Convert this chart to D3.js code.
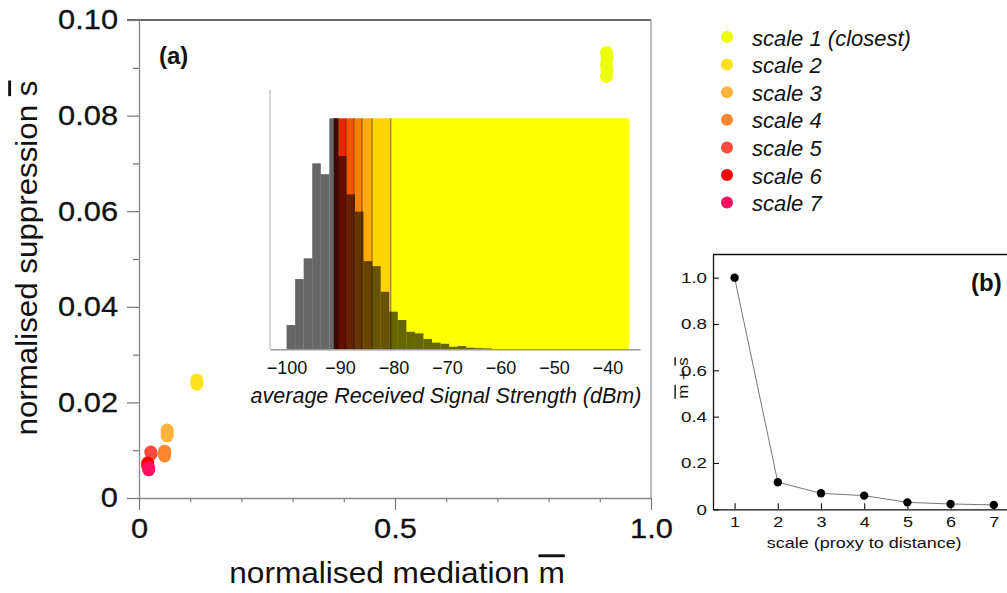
<!DOCTYPE html>
<html>
<head>
<meta charset="utf-8">
<script src="https://cdn.jsdelivr.net/npm/d3@7"></script>
<style>
  body { margin: 0; background: #fff; }
  svg { display: block; }
  text { font-family: "Liberation Sans", Arial, Helvetica, sans-serif; fill: #111; }
</style>
</head>
<body>
<svg id="chart" width="1007" height="593"></svg>
<script>
// ---- data ----
const scaleNames = ["scale 1 (closest)", "scale 2", "scale 3", "scale 4", "scale 5", "scale 6", "scale 7"];

// (a) normalised mediation / suppression, a few samples per scale
const scalePoints = [
  [[0.913, 0.0932], [0.914, 0.0920], [0.913, 0.0907], [0.914, 0.0895], [0.913, 0.0882]],
  [[0.113, 0.0247], [0.113, 0.0242], [0.113, 0.0238]],
  [[0.055, 0.0142], [0.055, 0.0136], [0.055, 0.0130]],
  [[0.050, 0.0098], [0.050, 0.0093], [0.050, 0.0088]],
  [[0.023, 0.0096], [0.024, 0.0092]],
  [[0.017, 0.0073], [0.017, 0.0067]],
  [[0.019, 0.0063], [0.019, 0.0059]]
];
const yTicksA = [0, 0.02, 0.04, 0.06, 0.08, 0.10];
const xTicksA = [0, 0.5, 1.0];

// inset histogram of average RSS (relative heights)
const binStart = [-100, -98.4, -96.8, -95.2, -93.6, -92.0, -90.4, -88.8, -87.2, -85.6, -84.0, -82.4,
                  -80.8, -79.2, -77.6, -76.0, -74.4, -72.8, -71.2, -69.6, -68.0, -66.4, -64.8, -63.2];
const binHeight = [0.105, 0.304, 0.394, 0.805, 0.758, 1.0, 0.837, 0.671, 0.596, 0.382, 0.36, 0.249,
                   0.163, 0.127, 0.076, 0.069, 0.045, 0.029, 0.024, 0.011, 0.014, 0.007, 0.005, 0.004];
const binWidth = 1.6;
const bandEdges = [-91.1, -90.3, -88.9, -87.4, -85.9, -84.0, -80.5, -36.0];
const rssTicks = [-100, -90, -80, -70, -60, -50, -40];

// (b) m + s per scale
const scaleNum = [1, 2, 3, 4, 5, 6, 7];
const sumMS = [1.0, 0.117, 0.069, 0.059, 0.030, 0.023, 0.019];
const yTicksB = [0, 0.2, 0.4, 0.6, 0.8, 1.0];

// colours
const dotColors = ["#eeff00", "#ffe21c", "#ffb23c", "#ff8530", "#ff4a3c", "#ff0000", "#ff0f5f"];
const bandColors = ["#b00000", "#ff2200", "#ff5500", "#ff8000", "#ffaa00", "#ffd200", "#ffff00"];

const svg = d3.select("#chart");

// stretch axis text horizontally (the original figure is a bit wide)
function stretch(sel, k) {
  sel.each(function () {
    const t = d3.select(this);
    const x = +t.attr("x") || 0;
    t.attr("x", x / k).attr("transform", `scale(${k},1)`);
  });
}

// ================= panel (a) =================
const x = d3.scaleLinear().domain([0, 1]).range([139, 651]);
const y = d3.scaleLinear().domain([0, 0.1]).range([498, 20]);

const gA = svg.append("g");

// frame: top and right
gA.append("line").attr("x1", 127).attr("x2", 651).attr("y1", y(0.1)).attr("y2", y(0.1))
  .attr("stroke", "#333").attr("stroke-width", 1.3);
gA.append("line").attr("x1", 651).attr("x2", 651).attr("y1", y(0.1)).attr("y2", y(0))
  .attr("stroke", "#999").attr("stroke-width", 1.3);

// minor ticks
gA.append("g").attr("transform", `translate(${x(0)},0)`)
  .call(d3.axisLeft(y).tickValues(d3.range(1, 10, 2).map(d => d / 100)).tickSize(6).tickFormat(""))
  .call(g => g.select(".domain").remove())
  .selectAll("line").attr("stroke", "#777").attr("stroke-width", 1.2);
gA.append("g").attr("transform", `translate(0,${y(0)})`)
  .call(d3.axisBottom(x).tickValues([0.1, 0.2, 0.3, 0.4, 0.6, 0.7, 0.8, 0.9]).tickSize(4).tickFormat(""))
  .call(g => g.select(".domain").remove())
  .selectAll("line").attr("stroke", "#777").attr("stroke-width", 1.2);

// major y axis
const yAxA = gA.append("g").attr("transform", `translate(${x(0)},0)`)
  .call(d3.axisLeft(y).tickValues(yTicksA).tickSize(12).tickSizeOuter(0).tickPadding(9)
    .tickFormat(d => d === 0 ? "0" : d3.format(".2f")(d)));
yAxA.select(".domain").attr("stroke", "#888").attr("stroke-width", 1.3);
yAxA.selectAll(".tick line").attr("stroke", "#777").attr("stroke-width", 1.2);
yAxA.selectAll("text").attr("font-size", 28).attr("fill", "#111").attr("font-family", null)
  .attr("stroke", "#111").attr("stroke-width", 0.3)
  .call(stretch, 1.1);

// major x axis
const xAxA = gA.append("g").attr("transform", `translate(0,${y(0)})`)
  .call(d3.axisBottom(x).tickValues(xTicksA).tickSize(12).tickSizeOuter(0).tickPadding(8)
    .tickFormat(d => d === 0 ? "0" : d3.format(".1f")(d)));
xAxA.select(".domain").attr("stroke", "#888").attr("stroke-width", 1.3);
xAxA.selectAll(".tick line").attr("stroke", "#777").attr("stroke-width", 1.2);
xAxA.selectAll("text").attr("font-size", 28).attr("fill", "#111").attr("font-family", null)
  .attr("stroke", "#111").attr("stroke-width", 0.3)
  .call(stretch, 1.1);

// axis titles
const yTitle = gA.append("text")
  .attr("transform", "translate(37,258) rotate(-90) scale(1.08,1)")
  .attr("text-anchor", "middle").attr("font-size", 29);
yTitle.append("tspan").text("normalised suppression ");
yTitle.append("tspan").style("text-decoration", "overline").text("s");

const xTitle = gA.append("text")
  .attr("transform", "translate(397,583) scale(1.09,1)")
  .attr("text-anchor", "middle").attr("font-size", 29);
xTitle.append("tspan").text("normalised mediation ");
xTitle.append("tspan").style("text-decoration", "overline").text("m");

gA.append("text").attr("x", 159).attr("y", 64)
  .attr("font-family", "Lato, 'Open Sans', sans-serif").attr("font-weight", "bold")
  .attr("font-size", 24).text("(a)");

// scatter points
scalePoints.forEach((pts, i) => {
  gA.append("g").selectAll("circle")
    .data(pts)
    .enter()
    .append("circle")
    .attr("cx", d => x(d[0]))
    .attr("cy", d => y(d[1]))
    .attr("r", 6.5)
    .attr("fill", dotColors[i]);
});

// ================= inset histogram =================
const hx = d3.scaleLinear().domain([-103.1, -33.9]).range([270, 640]);
const hy = d3.scaleLinear().domain([0, 1]).range([349.3, 118.3]);
const gH = svg.append("g");

// colour bands, closest scale on the right
const bands = d3.range(bandEdges.length - 1).map(i => [bandEdges[i], bandEdges[i + 1]]);
gH.selectAll("rect.band")
  .data(bands)
  .enter()
  .append("rect")
  .attr("class", "band")
  .attr("x", d => hx(d[0]))
  .attr("width", d => hx(d[1]) - hx(d[0]))
  .attr("y", hy(1))
  .attr("height", hy(0) - hy(1))
  .attr("fill", (d, i) => bandColors[i]);

// histogram bars
gH.selectAll("rect.bin")
  .data(binStart.map((b, i) => [b, binHeight[i]]))
  .enter()
  .append("rect")
  .attr("class", "bin")
  .attr("x", d => hx(d[0]))
  .attr("width", hx(binWidth) - hx(0))
  .attr("y", d => hy(d[1]))
  .attr("height", d => hy(0) - hy(d[1]))
  .attr("fill", "#000")
  .attr("fill-opacity", 0.6);

// band separators
gH.selectAll("line.sep")
  .data(bandEdges.slice(0, -1))
  .enter()
  .append("line")
  .attr("x1", d => hx(d)).attr("x2", d => hx(d))
  .attr("y1", hy(1)).attr("y2", hy(0))
  .attr("stroke", "#000").attr("stroke-opacity", 0.5).attr("stroke-width", 1);

// inset axes
gH.append("line").attr("x1", 270).attr("x2", 270).attr("y1", 90).attr("y2", hy(0))
  .attr("stroke", "#bbb").attr("stroke-width", 1.2);
const hAx = gH.append("g").attr("transform", `translate(0,${hy(0)})`)
  .call(d3.axisBottom(hx).tickValues(rssTicks).tickSize(0).tickSizeOuter(0).tickPadding(12));
hAx.select(".domain").attr("stroke", "#999").attr("stroke-width", 1.6);
hAx.selectAll("text").attr("font-size", 18).attr("fill", "#222").attr("font-family", null);

gH.append("text").attr("x", 446).attr("y", 403).attr("text-anchor", "middle")
  .attr("font-size", 21.5).attr("font-style", "italic")
  .text("average Received Signal Strength (dBm)");

// ================= legend =================
const leg = svg.append("g").selectAll("g")
  .data(scaleNames)
  .enter()
  .append("g")
  .attr("transform", (d, i) => `translate(727,${37 + i * 27.6})`);
leg.append("circle").attr("r", 6).attr("fill", (d, i) => dotColors[i]);
leg.append("text").attr("x", 25).attr("y", 8.5)
  .attr("font-size", 22).attr("font-style", "italic").text(d => d);

// ================= panel (b) =================
const bx = d3.scaleLinear().domain([0.5, 7.5]).range([713, 1015.4]);
const by = d3.scaleLinear().domain([0, 1.1]).range([509.3, 254.5]);
const gB = svg.append("g");

gB.append("line").attr("x1", 713).attr("x2", 1007).attr("y1", by(1.1)).attr("y2", by(1.1))
  .attr("stroke", "#111").attr("stroke-width", 1.3);

const bxAx = gB.append("g").attr("transform", `translate(0,${by(0)})`)
  .call(d3.axisBottom(bx).tickValues(scaleNum).tickSize(-6).tickSizeOuter(0).tickPadding(7)
    .tickFormat(d3.format("d")));
const byAx = gB.append("g").attr("transform", `translate(${bx(0.5)},0)`)
  .call(d3.axisLeft(by).tickValues(yTicksB).tickSize(-6).tickSizeOuter(0).tickPadding(6)
    .tickFormat(d => d === 0 ? "0" : d3.format(".1f")(d)));
[bxAx, byAx].forEach(a => {
  a.select(".domain").attr("stroke", "#111").attr("stroke-width", 1.3);
  a.selectAll(".tick line").attr("stroke", "#111").attr("stroke-width", 1.1);
  a.selectAll("text").attr("font-size", 15).attr("fill", "#111").attr("font-family", null);
});
byAx.selectAll("text").call(stretch, 1.25);
bxAx.selectAll("text").call(stretch, 1.2);

gB.append("text").attr("transform", `translate(${(bx(1) + bx(7)) / 2},548) scale(1.2,1)`)
  .attr("text-anchor", "middle").attr("font-size", 15).text("scale (proxy to distance)");

const bTitle = gB.append("text")
  .attr("transform", "translate(688,378) rotate(-90) scale(1.2,1)")
  .attr("text-anchor", "middle").attr("font-size", 14).attr("fill", "#333");
bTitle.append("tspan").style("text-decoration", "overline").text("m");
bTitle.append("tspan").text(" + ");
bTitle.append("tspan").style("text-decoration", "overline").text("s");

gB.append("text").attr("x", 971).attr("y", 291)
  .attr("font-family", "Lato, 'Open Sans', sans-serif").attr("font-weight", "bold")
  .attr("font-size", 24).text("(b)");

const lineB = d3.line().x((d, i) => bx(scaleNum[i])).y(d => by(d));
gB.append("path").datum(sumMS).attr("d", lineB)
  .attr("fill", "none").attr("stroke", "#666").attr("stroke-width", 0.9);
gB.append("g").selectAll("circle")
  .data(sumMS)
  .enter()
  .append("circle")
  .attr("cx", (d, i) => bx(scaleNum[i]))
  .attr("cy", d => by(d))
  .attr("r", 4.2)
  .attr("fill", "#000");
</script>
</body>
</html>
